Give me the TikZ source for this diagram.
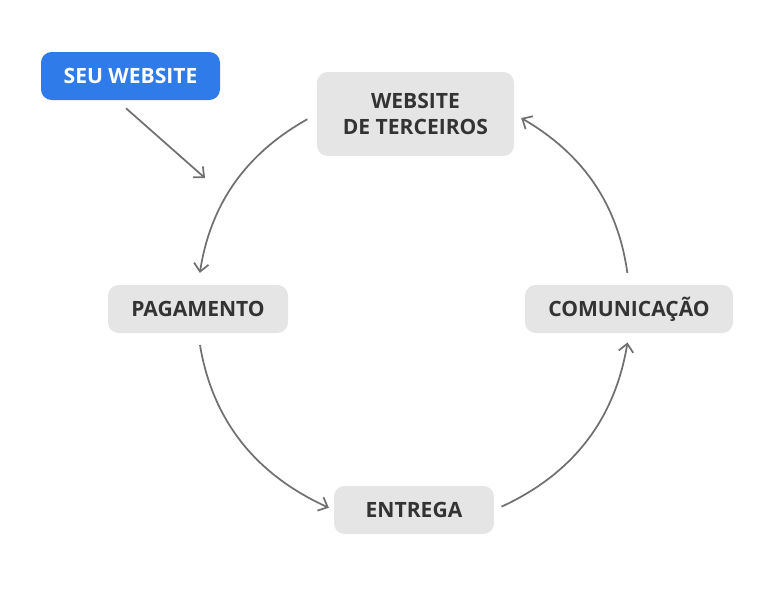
\documentclass[tikz,border=0pt]{standalone}
\usepackage{fontspec}
\setmainfont{Open Sans}
\usetikzlibrary{arrows.meta}
\definecolor{boxgray}{HTML}{E5E5E5}
\definecolor{seublue}{HTML}{2F7BEA}
\definecolor{txtdark}{HTML}{333333}
\definecolor{arrowgray}{HTML}{707070}
\begin{document}
\begin{tikzpicture}[x=0.75pt,y=-0.75pt,
  stepbox/.style={fill=boxgray, rounded corners=8pt, text=txtdark,
    font=\fontsize{15.8pt}{19pt}\selectfont\bfseries, align=center, inner sep=0pt},
  seubox/.style={stepbox, fill=seublue, text=white},
  conn/.style={draw=arrowgray, line width=1.3pt,
    -{Straight Barb[length=6pt,width=11pt,line width=1.3pt]}}]
\useasboundingbox (0,0) rectangle (769,607);
\node[seubox, minimum width=134.25pt, minimum height=36pt] (seu) at (130.5,76) {SEU WEBSITE};
\node[stepbox, minimum width=147.75pt, minimum height=63pt] (web) at (415.5,114) {WEBSITE\\DE TERCEIROS};
\node[stepbox, minimum width=135pt, minimum height=36pt] (pag) at (198,309) {PAGAMENTO};
\node[stepbox, minimum width=156pt, minimum height=36pt] (com) at (629,309) {COMUNICAÇÃO};
\node[stepbox, minimum width=120pt, minimum height=36pt] (ent) at (414,510) {ENTREGA};
\coordinate (tip) at (205,178);
\draw[conn] ([shift={(-4.5,8)}]seu.south) -- (tip);
\draw[conn, shorten <=8pt, shorten >=9pt] (web.west) to[bend right=26] (pag.north);
\draw[conn, shorten <=9pt, shorten >=4pt] (pag.south) to[bend right=28] (ent.west);
\draw[conn, shorten <=6pt, shorten >=7pt] (ent.east) to[bend right=28] (com.south);
\draw[conn, shorten <=9pt, shorten >=6pt] (com.north) to[bend right=26] (web.east);
\end{tikzpicture}
\end{document}
